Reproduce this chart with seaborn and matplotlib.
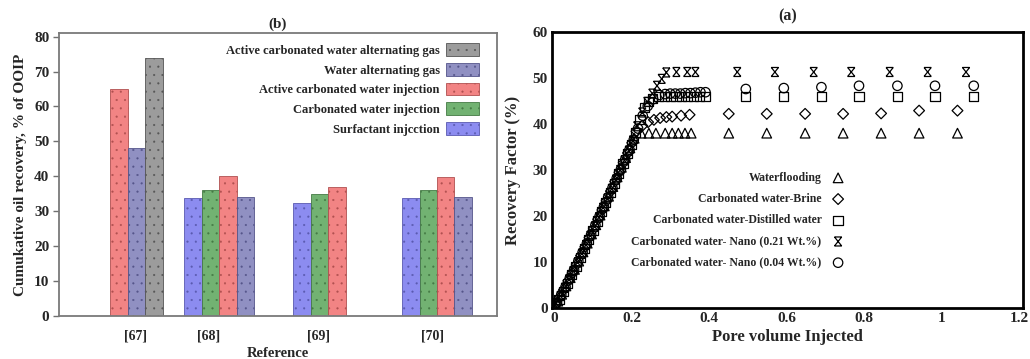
import matplotlib
matplotlib.use("Agg")
import matplotlib.pyplot as plt
from matplotlib.path import Path
from matplotlib.patches import Patch
import seaborn as sns
import pandas as pd

# ---------------- data: panel (b) ----------------
references = ["[67]", "[68]", "[69]", "[70]"]
methods = ["Surfactant injcction", "Carbonated water injection",
           "Active carbonated water injection", "Water alternating gas",
           "Active carbonated water alternating gas"]
surfactant = [None, 33.7, 32.3, 33.7]
cwi = [None, 36.1, 34.8, 36.1]
acwi = [65.0, 40.2, 36.8, 39.7]
wag = [48.1, 34.1, None, 34.1]
acwag = [73.8, None, None, None]

# ---------------- data: panel (a) ----------------
wf_x = [0.000, 0.010, 0.020, 0.031, 0.042, 0.053, 0.064, 0.075, 0.086, 0.097, 0.108, 0.119,
        0.130, 0.141, 0.152, 0.163, 0.174, 0.185, 0.196, 0.207, 0.225, 0.245, 0.263, 0.287,
        0.305, 0.321, 0.338, 0.354, 0.451, 0.549, 0.648, 0.746, 0.844, 0.942, 1.041]
wf_y = [0.3, 1.5, 3.0, 4.8, 6.6, 8.4, 10.2, 12.2, 14.1, 16.1, 18.1, 20.2, 22.2, 24.3, 26.4,
        28.5, 30.6, 32.7, 34.8, 36.9, 38.0, 38.0, 38.0, 38.0, 38.0, 38.0, 38.0, 38.0, 38.0,
        38.0, 38.0, 38.0, 38.0, 38.0, 38.0]

br_x = [0.004, 0.015, 0.026, 0.037, 0.048, 0.059, 0.070, 0.081, 0.092, 0.103, 0.114, 0.125,
        0.136, 0.147, 0.158, 0.169, 0.180, 0.191, 0.202, 0.213, 0.228, 0.243, 0.258, 0.274,
        0.290, 0.305, 0.328, 0.350, 0.451, 0.549, 0.648, 0.746, 0.844, 0.942, 1.041]
br_y = [0.8, 2.3, 4.0, 5.9, 7.6, 9.5, 11.4, 13.3, 15.3, 17.2, 19.3, 21.3, 23.3, 25.4, 27.5,
        29.5, 31.6, 33.7, 35.9, 38.4, 39.6, 40.4, 40.9, 41.3, 41.5, 41.6, 41.8, 42.0, 42.2,
        42.2, 42.2, 42.2, 42.3, 42.9, 42.9]

dw_x = [0.002, 0.013, 0.024, 0.035, 0.046, 0.057, 0.068, 0.079, 0.090, 0.101, 0.112, 0.123,
        0.134, 0.145, 0.156, 0.167, 0.178, 0.189, 0.200, 0.211, 0.222, 0.233, 0.244, 0.255,
        0.270, 0.285, 0.300, 0.315, 0.330, 0.345, 0.360, 0.375, 0.390, 0.495, 0.593, 0.690,
        0.787, 0.886, 0.983, 1.083]
dw_y = [0.5, 1.9, 3.6, 5.4, 7.2, 9.1, 11.0, 13.0, 14.9, 16.9, 18.9, 21.0, 23.0, 25.1, 27.1,
        29.2, 31.4, 33.5, 35.6, 38.2, 41.0, 43.5, 44.8, 45.6, 45.9, 45.9, 45.9, 45.9, 45.9,
        45.9, 45.9, 45.9, 45.9, 45.9, 45.9, 45.9, 45.9, 45.9, 45.9, 45.9]

n21_x = [0.006, 0.017, 0.028, 0.039, 0.050, 0.061, 0.072, 0.083, 0.094, 0.105, 0.116, 0.127,
         0.138, 0.149, 0.160, 0.171, 0.182, 0.193, 0.204, 0.215, 0.228, 0.241, 0.254, 0.266,
         0.278, 0.290, 0.316, 0.344, 0.365, 0.473, 0.570, 0.670, 0.767, 0.866, 0.964, 1.063]
n21_y = [1.0, 2.6, 4.4, 6.2, 8.0, 9.9, 11.8, 13.7, 15.7, 17.7, 19.7, 21.8, 23.8, 25.9, 27.9,
         30.0, 32.1, 34.2, 36.4, 39.5, 42.5, 44.8, 46.6, 48.3, 49.8, 51.2, 51.3, 51.3, 51.3,
         51.3, 51.3, 51.3, 51.3, 51.3, 51.3, 51.3]

n04_x = [0.008, 0.019, 0.030, 0.041, 0.052, 0.063, 0.074, 0.085, 0.096, 0.107, 0.118, 0.129,
         0.140, 0.151, 0.162, 0.173, 0.184, 0.195, 0.206, 0.217, 0.229, 0.242, 0.256, 0.272,
         0.287, 0.300, 0.313, 0.326, 0.339, 0.352, 0.365, 0.378, 0.391, 0.495, 0.593, 0.690,
         0.787, 0.886, 0.983, 1.083]
n04_y = [1.2, 2.9, 4.6, 6.5, 8.3, 10.2, 12.1, 14.0, 16.0, 18.0, 20.0, 22.0, 24.1, 26.1, 28.2,
         30.2, 32.3, 34.4, 36.6, 39.0, 41.8, 43.9, 45.4, 46.3, 46.5, 46.6, 46.6, 46.6, 46.7,
         46.7, 46.8, 46.9, 46.9, 47.6, 47.8, 48.0, 48.3, 48.3, 48.3, 48.3]

series_names = ["Waterflooding", "Carbonated water-Brine", "Carbonated water-Distilled water",
                "Carbonated water- Nano (0.21 Wt.%)", "Carbonated water- Nano (0.04 Wt.%)"]

# ---------------- style ----------------
sns.set_theme(style="white")
plt.rcParams["font.family"] = ["Liberation Serif", "DejaVu Serif"]
plt.rcParams["font.weight"] = "bold"
plt.rcParams["axes.labelweight"] = "bold"
plt.rcParams["axes.titleweight"] = "bold"
plt.rcParams["hatch.linewidth"] = 0.3

fig = plt.figure(figsize=(10.30, 3.59), dpi=100)
axb = fig.add_axes([0.0573, 0.1198, 0.4252, 0.788])
axa = fig.add_axes([0.5359, 0.1420, 0.4573, 0.769])

# ---------------- panel (b) bars ----------------
rows = []
for vals, m in zip([surfactant, cwi, acwi, wag, acwag], methods):
    for r, v in zip(references, vals):
        if v is not None:
            rows.append({"Reference": r, "Method": m, "Value": v})
dfb = pd.DataFrame(rows)

bar_colors = {methods[0]: "#8c8cf0", methods[1]: "#72b272", methods[2]: "#f28484",
              methods[3]: "#9090c2", methods[4]: "#9c9c9c"}
edge_colors = {methods[0]: "#5a5ab0", methods[1]: "#457a45", methods[2]: "#b05050",
               methods[3]: "#55558a", methods[4]: "#555555"}

sns.barplot(data=dfb, x="Reference", y="Value", hue="Method", order=references,
            hue_order=methods, palette=bar_colors, width=0.8, ax=axb, legend=False,
            saturation=1)

for cont, m in zip(axb.containers, methods):
    for p in cont:
        p.set_edgecolor(edge_colors[m])
        p.set_linewidth(0.6)
        p.set_hatch("..")

axb.set_ylim(0, 81)
axb.set_xlim(-0.55, 3.47)
axb.set_yticks(range(0, 81, 10))
axb.set_xticks([0.15, 0.82, 1.83, 2.88])
axb.set_xticklabels(references)
axb.tick_params(axis="y", which="both", left=True, length=4, width=1, color="#707070",
                labelsize=11, pad=3)
axb.tick_params(axis="x", bottom=False, labelsize=10, pad=4)
for lab in axb.get_xticklabels() + axb.get_yticklabels():
    lab.set_fontweight("bold")
for s in axb.spines.values():
    s.set_color("#7a7a7a")
    s.set_linewidth(1.3)
axb.set_xlabel("Reference", fontsize=10.5, labelpad=3)
axb.set_ylabel("Cumukative oil recovery, % of OOIP", fontsize=11, labelpad=5)
axb.set_title("(b)", fontsize=11, pad=4)

leg_handles = [Patch(facecolor=bar_colors[m], edgecolor=edge_colors[m], hatch="..",
                     linewidth=0.6) for m in methods[::-1]]
legb = axb.legend(leg_handles, [m for m in methods[::-1]], loc="upper right",
                  bbox_to_anchor=(0.975, 0.99), frameon=False, markerfirst=False,
                  alignment="right", fontsize=9, handlelength=2.6, handleheight=1.15,
                  labelspacing=0.5, handletextpad=0.5, borderaxespad=0.2)
for t in legb.get_texts():
    t.set_fontweight("bold")

# ---------------- panel (a) scatter ----------------
hourglass = Path([(-0.8, 1), (0.8, -1), (0.8, 1), (-0.8, -1),
                  (-0.8, 1), (0.8, 1), (-0.8, -1), (0.8, -1)],
                 [Path.MOVETO, Path.LINETO, Path.MOVETO, Path.LINETO,
                  Path.MOVETO, Path.LINETO, Path.MOVETO, Path.LINETO])
markers = ["^", "D", "s", hourglass, "o"]
sizes = [48, 30, 44, 42, 46]
xs = [wf_x, br_x, dw_x, n21_x, n04_x]
ys = [wf_y, br_y, dw_y, n21_y, n04_y]

for name, mk, sz, xv, yv in zip(series_names, markers, sizes, xs, ys):
    dfa = pd.DataFrame({"PV": xv, "RF": yv})
    sns.scatterplot(data=dfa, x="PV", y="RF", marker=mk, s=sz, facecolors="none",
                    edgecolor="black", linewidth=0.9, ax=axa, label=name, legend=False)

axa.set_xlim(-0.005, 1.21)
axa.set_ylim(0, 60)
axa.set_xticks([0, 0.2, 0.4, 0.6, 0.8, 1.0, 1.2])
axa.set_xticklabels(["0", "0.2", "0.4", "0.6", "0.8", "1", "1.2"])
axa.set_yticks(range(0, 61, 10))
axa.tick_params(axis="both", length=0, labelsize=11, pad=3)
for lab in axa.get_xticklabels() + axa.get_yticklabels():
    lab.set_fontweight("bold")
for s in axa.spines.values():
    s.set_color("black")
    s.set_linewidth(2.0)
axa.set_xlabel("Pore volume Injected", fontsize=12, labelpad=3)
axa.set_ylabel("Recovery Factor (%)", fontsize=12, labelpad=8)
axa.set_title("(a)", fontsize=11.5, pad=8)

h, l = axa.get_legend_handles_labels()
lega = axa.legend(h, l, loc="upper right", bbox_to_anchor=(0.63, 0.51), frameon=False,
                  markerfirst=False, alignment="right", fontsize=8.5, labelspacing=0.78,
                  handletextpad=0.9, handlelength=1.0, borderaxespad=0.0,
                  scatterpoints=1)
for t in lega.get_texts():
    t.set_fontweight("bold")

fig.savefig("out.png", dpi=100)
